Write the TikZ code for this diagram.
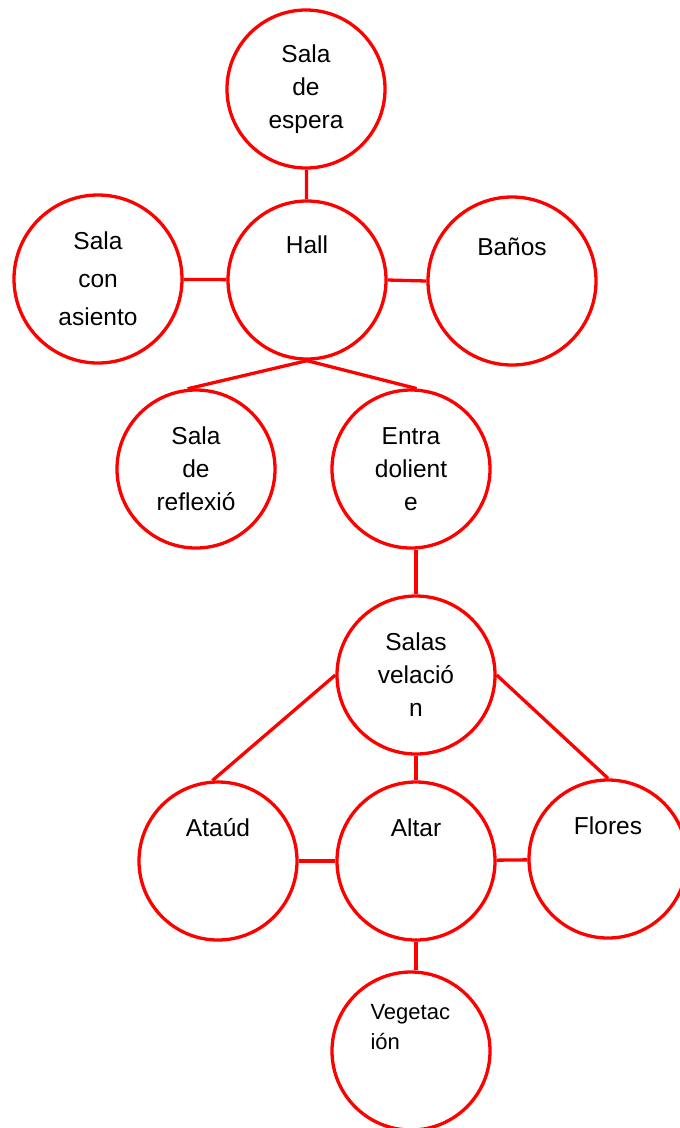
\documentclass[tikz,border=0pt]{standalone}
\usepackage{fontspec}
\setmainfont{Liberation Sans}
\begin{document}
\begin{tikzpicture}[
  x=1pt, y=-1pt,
  room/.style={circle, draw=red, line width=3.3pt, minimum size=158pt, inner sep=0pt},
  bigroom/.style={room, minimum size=168pt},
  lbl/.style={align=center, font=\fontsize{24.5}{33}\selectfont},
  link/.style={red, line width=3.3pt}
]
\useasboundingbox (0,0) rectangle (680,1128);
\clip (0,0) rectangle (680,1128);

% circles
\node[room] (espera) at (306,89) {};
\node[room] (hall) at (307,280) {};
\node[bigroom] (asiento) at (98,279) {};
\node[bigroom] (banos) at (512,281) {};
\node[room] (reflexio) at (196,469) {};
\node[room] (entra) at (411,469) {};
\node[room] (salas) at (416,675) {};
\node[room] (ataud) at (218,861) {};
\node[room] (altar) at (416,861) {};
\node[room] (flores) at (608,859) {};
\node[room] (veget) at (411,1051) {};

% texts
\node[lbl] (espera-t) at (espera.center) {Sala\\de\\espera};
\node[lbl] (hall-t) at ([yshift=35pt]hall.center) {Hall};
\node[lbl] (asiento-t) at (asiento.center) {Sala\\[5pt]con\\[5pt]asiento};
\node[lbl] (banos-t) at ([yshift=34pt]banos.center) {Baños};
\node[lbl] (reflexio-t) at (reflexio.center) {Sala\\de\\reflexió};
\node[lbl] (entra-t) at (entra.center) {Entra\\dolient\\e};
\node[lbl] (salas-t) at (salas.center) {Salas\\velació\\n};
\node[lbl] (ataud-t) at ([yshift=33pt]ataud.center) {Ataúd};
\node[lbl] (altar-t) at ([yshift=33pt]altar.center) {Altar};
\node[lbl] (flores-t) at ([yshift=33pt]flores.center) {Flores};
\node[lbl, align=left, anchor=north west, font=\fontsize{22}{30}\selectfont]
  (veget-t) at (367,1001) {Vegetac\\ión};

% links
\draw[link] (espera) -- (hall);
\draw[link] (asiento) -- (hall);
\draw[link] (hall.east) -- (banos.west);
\draw[link] (hall.south) -- (reflexio.96);
\draw[link] (hall.south) -- (entra.86);
\draw[link] (salas.north) -- (salas.north |- entra.south);
\draw[link] (salas.west) -- (ataud.94);
\draw[link] (salas.east) -- (flores.north);
\draw[link] (salas) -- (altar);
\draw[link] (ataud) -- (altar);
\draw[link] (altar) -- (flores);
\draw[link] (altar.south) -- (altar.south |- veget.north);
\end{tikzpicture}
\end{document}
